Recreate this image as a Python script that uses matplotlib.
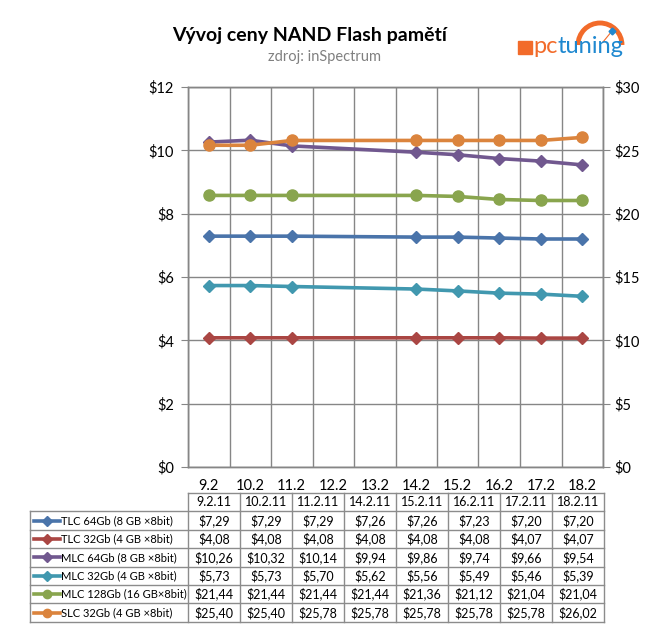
import numpy as np
import matplotlib
matplotlib.use("Agg")
from matplotlib import pyplot as plt
from matplotlib.patches import Rectangle, Arc
from matplotlib.lines import Line2D

plt.rcParams['font.family'] = ['Lato', 'DejaVu Sans']

# categories on the x axis and the dates that have data
categories = ['9.2', '10.2', '11.2', '12.2', '13.2', '14.2', '15.2', '16.2', '17.2', '18.2']
dates = ['9.2', '10.2', '11.2', '14.2', '15.2', '16.2', '17.2', '18.2']
table_header = ['9.2.11', '10.2.11', '11.2.11', '14.2.11', '15.2.11', '16.2.11', '17.2.11', '18.2.11']

names = ['TLC 64Gb (8 GB \u00d78bit)', 'TLC 32Gb (4 GB \u00d78bit)', 'MLC 64Gb (8 GB \u00d78bit)',
         'MLC 32Gb (4 GB \u00d78bit)', 'MLC 128Gb (16 GB\u00d78bit)', 'SLC 32Gb (4 GB \u00d78bit)']
tlc64 = [7.29, 7.29, 7.29, 7.26, 7.26, 7.23, 7.20, 7.20]
tlc32 = [4.08, 4.08, 4.08, 4.08, 4.08, 4.08, 4.07, 4.07]
mlc64 = [10.26, 10.32, 10.14, 9.94, 9.86, 9.74, 9.66, 9.54]
mlc32 = [5.73, 5.73, 5.70, 5.62, 5.56, 5.49, 5.46, 5.39]
mlc128 = [21.44, 21.44, 21.44, 21.44, 21.36, 21.12, 21.04, 21.04]
slc32 = [25.40, 25.40, 25.78, 25.78, 25.78, 25.78, 25.78, 26.02]

series = [tlc64, tlc32, mlc64, mlc32, mlc128, slc32]
colors = ['#4A74AA', '#AA4643', '#71588F', '#4198AF', '#89A54E', '#DB843D']
markers = ['D', 'D', 'D', 'D', 'o', 'o']
secondary = [False, False, False, False, True, True]

W, H = 650, 642
fig = plt.figure(figsize=(W / 100, H / 100), dpi=100)

def fx(px):
    return px / W

def fy(py):
    return 1 - py / H

grid_c = '#868686'
ax = fig.add_axes([fx(188), fy(467), fx(603) - fx(188), fy(87) - fy(467)])
ax2 = ax.twinx()

xpos = [categories.index(d) for d in dates]
for vals, c, m, sec in zip(series, colors, markers, secondary):
    target = ax2 if sec else ax
    ms = 8 if m == 'o' else 6.5
    target.plot(xpos, vals, color=c, lw=2.6, marker=m, ms=ms, mec=c, mfc=c, zorder=3)

ax.set_xlim(-0.5, len(categories) - 0.5)
ax.set_ylim(0, 12)
ax2.set_ylim(0, 30)
ax.set_yticks(np.arange(0, 13, 2))
ax.set_yticklabels(['$%d' % v for v in range(0, 13, 2)])
ax2.set_yticks(np.arange(0, 31, 5))
ax2.set_yticklabels(['$%d' % v for v in range(0, 31, 5)])
ax.set_xticks(range(len(categories)))
ax.set_xticklabels(categories)
ax.set_xticks(np.arange(-0.5, len(categories), 1), minor=True)
ax.grid(True, which='minor', axis='x', color=grid_c, lw=1)
ax.grid(True, which='major', axis='y', color=grid_c, lw=1)
ax.tick_params(axis='x', which='both', length=0, labelsize=10.5, pad=9)
ax.tick_params(axis='y', length=5, color=grid_c, labelsize=10.5, pad=5)
ax2.tick_params(axis='y', length=5, color=grid_c, labelsize=10.5, pad=3)
for a in (ax, ax2):
    for s in a.spines.values():
        s.set_color(grid_c)
        s.set_linewidth(1)
ax.set_axisbelow(True)

# title
fig.text(fx(310), fy(35), 'Vývoj ceny NAND Flash pamětí', ha='center', va='center',
         fontsize=14, fontweight='bold', color='black')
fig.text(fx(325), fy(57), 'zdroj: inSpectrum', ha='center', va='center', fontsize=10.5, color='#808080')

# logo
orange, blue = '#F26B2A', '#1E88D0'
fig.patches.append(Rectangle((fx(518), fy(54)), fx(14), fy(41) - fy(54), transform=fig.transFigure,
                             color=orange, figure=fig))
fig.patches.append(Arc((fx(600), fy(45)), fx(44), fy(0) - fy(44), theta1=0, theta2=180,
                       transform=fig.transFigure, color=orange, lw=3.5))
fig.add_artist(Line2D([fx(603), fx(612)], [fy(42), fy(31)], color=orange, lw=0.8,
                      transform=fig.transFigure))
fig.add_artist(Line2D([fx(612)], [fy(31)], color=blue, marker='D', ms=3.5,
                      transform=fig.transFigure))
t_pc = fig.text(fx(533), fy(53), 'pc', ha='left', va='baseline', fontsize=17, color=orange)
fig.canvas.draw()
bb = t_pc.get_window_extent()
fig.text(bb.x1 / W, fy(53), 'tuning', ha='left', va='baseline', fontsize=17, color=blue)

# data table
tl, tc0, tr = 30, 188, 604
col_w = (tr - tc0) / len(table_header)
ttop, row_h = 493, 18.4
nrows = len(names) + 1
tab_c = '#8C8C8C'

def hline(y, x0, x1):
    fig.add_artist(Line2D([fx(x0), fx(x1)], [fy(y), fy(y)], color=tab_c, lw=1, transform=fig.transFigure))

def vline(x, y0, y1):
    fig.add_artist(Line2D([fx(x), fx(x)], [fy(y0), fy(y1)], color=tab_c, lw=1, transform=fig.transFigure))

hline(ttop, tc0, tr)
for r in range(1, nrows + 1):
    hline(ttop + r * row_h, tl, tr)
vline(tl, ttop + row_h, ttop + nrows * row_h)
for k in range(len(table_header) + 1):
    vline(tc0 + k * col_w, ttop, ttop + nrows * row_h)

for k, h in enumerate(table_header):
    fig.text(fx(tc0 + (k + 0.5) * col_w), fy(ttop + 0.5 * row_h), h, ha='center', va='center', fontsize=9)

for r, (nm, vals, c, m) in enumerate(zip(names, series, colors, markers)):
    yc = ttop + (r + 1.5) * row_h
    fig.add_artist(Line2D([fx(34), fx(60)], [fy(yc), fy(yc)], color=c, lw=2.6, transform=fig.transFigure))
    fig.add_artist(Line2D([fx(47)], [fy(yc)], color=c, marker=m, ms=6 if m == 'o' else 5,
                          transform=fig.transFigure))
    fig.text(fx(61), fy(yc), nm, ha='left', va='center', fontsize=8)
    for k, v in enumerate(vals):
        fig.text(fx(tc0 + (k + 0.5) * col_w), fy(yc), ('$%.2f' % v).replace('.', ','),
                 ha='center', va='center', fontsize=9)

fig.savefig('out.png', dpi=100, facecolor='white')
